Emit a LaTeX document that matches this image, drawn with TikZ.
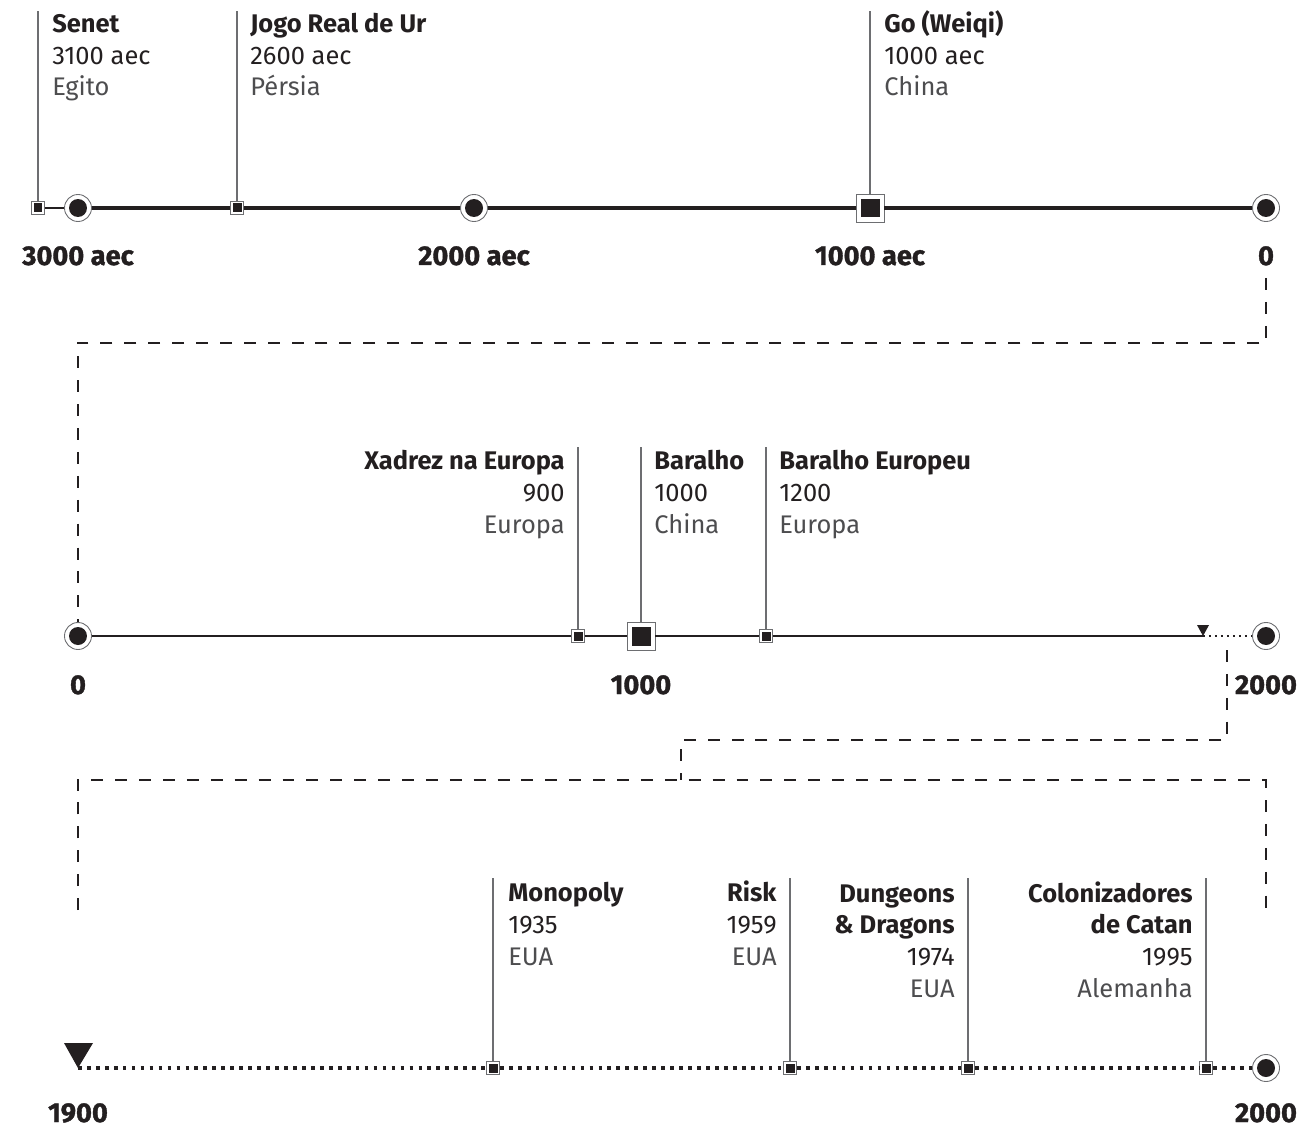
\documentclass[tikz,border=0pt]{standalone}
\usepackage{fontspec}
\setmainfont{Fira Sans}
\newfontfamily\axisfont{Fira Sans}[BoldFeatures={FakeBold=1.3}]
\usetikzlibrary{calc}
\definecolor{ink}{HTML}{231F20}
\definecolor{stemgray}{HTML}{6D6E71}
\definecolor{placegray}{HTML}{4D4D4F}

\begin{document}
\begin{tikzpicture}[x=0.02cm, y=-0.02cm,
  every node/.style={font=\fontsize{14.5}{18}\selectfont, text=ink},
  endpt/.style={circle, draw=stemgray, line width=0.5pt, fill=white, minimum size=0.54cm, inner sep=0pt,
    path picture={\fill[ink] (path picture bounding box.center) circle (0.18cm);}},
  tick/.style={rectangle, draw=stemgray, line width=0.5pt, fill=white, minimum size=0.26cm, inner sep=0pt,
    path picture={\fill[ink] ($(path picture bounding box.center)+(-0.09cm,-0.09cm)$) rectangle ++(0.18cm,0.18cm);}},
  bigtick/.style={rectangle, draw=stemgray, line width=0.5pt, fill=white, minimum size=0.56cm, inner sep=0pt,
    path picture={\fill[ink] ($(path picture bounding box.center)+(-0.19cm,-0.19cm)$) rectangle ++(0.38cm,0.38cm);}},
  event/.style={anchor=base west, align=left, inner sep=0pt},
  eventr/.style={anchor=base east, align=right, inner sep=0pt},
  axislabel/.style={font=\axisfont\bfseries\fontsize{15.5}{18}\selectfont, anchor=base, inner sep=0pt},
  stem/.style={draw=stemgray, line width=0.6pt},
  link/.style={draw=ink, line width=1.4pt, dash pattern=on 6.8pt off 6.8pt},
  axisthick/.style={draw=ink, line width=2.2pt},
  axisthin/.style={draw=ink, line width=1.1pt},
  axisdots/.style={draw=ink, line width=1.1pt, dash pattern=on 1.1pt off 2.3pt},
  axisbigdots/.style={draw=ink, line width=2.4pt, dash pattern=on 2.1pt off 3pt}
]
\newcommand{\pl}[1]{{\color{placegray}#1}}
\useasboundingbox (0,0) rectangle (1300,1128);

% row 1: 3000 aec -- 0
\node[tick] (senet) at (38,208) {};
\node[endpt] (a3000) at (78,208) {};
\node[tick] (ur) at (237,208) {};
\node[endpt] (a2000) at (474,208) {};
\node[bigtick] (go) at (870,208) {};
\node[endpt] (a0) at (1266,208) {};
\draw[axisthin] (senet) -- (a3000);
\draw[axisthick] (a3000) -- (ur) -- (a2000) -- (go) -- (a0);

\coordinate (senet top) at (38,11);
\coordinate (ur top) at (237,11);
\coordinate (go top) at (870,11);
\draw[stem] (senet) -- (senet top);
\draw[stem] (ur) -- (ur top);
\draw[stem] (go) -- (go top);

% base = last line
\node[event] (senet txt) at (52,96) {\textbf{Senet}\\3100 aec\\\pl{Egito}};
\node[event] (ur txt) at (250,96) {\textbf{Jogo Real de Ur}\\2600 aec\\\pl{Pérsia}};
\node[event] (go txt) at (884,96) {\textbf{Go (Weiqi)}\\1000 aec\\\pl{China}};

\node[axislabel] (l3000) at (78,265) {3000 aec};
\node[axislabel] (l2000) at (474,265) {2000 aec};
\node[axislabel] (l1000) at (870,265) {1000 aec};
\node[axislabel] (l0) at (1266,265) {0};

% row 2: 0 -- 2000
\node[endpt] (b0) at (78,636) {};
\node[tick] (xadrez) at (578,636) {};
\node[bigtick] (baralho) at (641,636) {};
\node[tick] (europeu) at (766,636) {};
\coordinate (b1900) at (1203,636);
\node[endpt] (b2000) at (1266,636) {};
\draw[axisthin] (b0) -- (xadrez) -- (baralho) -- (europeu) -- (b1900);
\draw[axisdots] (b1900) -- (b2000);
\fill[ink] (b1900) -- ++(-6,-11) -- ++(12,0) -- cycle;

\coordinate (xadrez top) at (578,447);
\coordinate (baralho top) at (641,447);
\coordinate (europeu top) at (766,447);
\draw[stem] (xadrez) -- (xadrez top);
\draw[stem] (baralho) -- (baralho top);
\draw[stem] (europeu) -- (europeu top);

\node[eventr] (xadrez txt) at (565,533) {\textbf{Xadrez na Europa}\\900\\\pl{Europa}};
\node[event] (baralho txt) at (654,533) {\textbf{Baralho}\\1000\\\pl{China}};
\node[event] (europeu txt) at (779,533) {\textbf{Baralho Europeu}\\1200\\\pl{Europa}};

\node[axislabel] (m0) at (78,694) {0};
\node[axislabel] (m1000) at (641,694) {1000};
\node[axislabel] (m2000) at (1266,694) {2000};

% row 3: 1900 -- 2000
\coordinate (c1900) at (78,1068);
\node[tick] (monopoly) at (493,1068) {};
\node[tick] (risk) at (790,1068) {};
\node[tick] (dnd) at (968,1068) {};
\node[tick] (catan) at (1206,1068) {};
\node[endpt] (c2000) at (1266,1068) {};
\draw[axisbigdots] (c1900) -- (monopoly) -- (risk) -- (dnd) -- (catan) -- (c2000);
\fill[ink] (c1900) -- ++(-14,-25) -- ++(29,0) -- cycle;

\coordinate (monopoly top) at (493,878);
\coordinate (risk top) at (790,878);
\coordinate (dnd top) at (968,878);
\coordinate (catan top) at (1206,878);
\draw[stem] (monopoly) -- (monopoly top);
\draw[stem] (risk) -- (risk top);
\draw[stem] (dnd) -- (dnd top);
\draw[stem] (catan) -- (catan top);

\node[event] (monopoly txt) at (508,965) {\textbf{Monopoly}\\1935\\\pl{EUA}};
\node[eventr] (risk txt) at (777,965) {\textbf{Risk}\\1959\\\pl{EUA}};
\node[eventr] (dnd txt) at (955,997) {\textbf{Dungeons}\\\textbf{\& Dragons}\\1974\\\pl{EUA}};
\node[eventr] (catan txt) at (1193,997) {\textbf{Colonizadores}\\\textbf{de Catan}\\1995\\\pl{Alemanha}};

\node[axislabel] (n1900) at (78,1122) {1900};
\node[axislabel] (n2000) at (1266,1122) {2000};

% dashed links between the rows
\coordinate (link a) at (1266,278);
\draw[link] (link a) -- ++(0,65) -| (b0);
\coordinate (link b) at (1227,650);
\coordinate (zoom top) at (681,780);
\draw[link] (link b) -- ++(0,90) -| (zoom top);
\coordinate (zoom left) at (78,910);
\coordinate (zoom right) at (1266,910);
\draw[link] (zoom left) |- (zoom top) -| (zoom right);
\end{tikzpicture}
\end{document}
